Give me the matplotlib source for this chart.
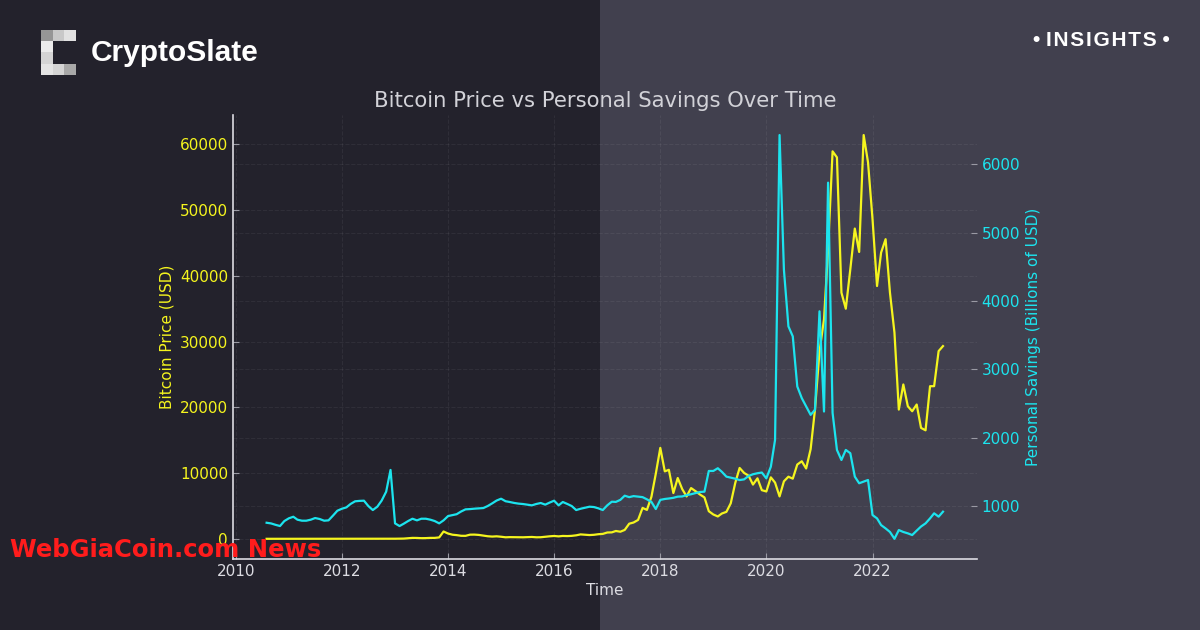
import matplotlib
matplotlib.use('Agg')
import numpy as np
import pandas as pd
import matplotlib.pyplot as plt
import matplotlib.dates as mdates
from matplotlib.patches import Rectangle

# monthly data, Aug 2010 - May 2023
months = pd.date_range('2010-08-01', '2023-05-01', freq='MS')

btc_price = [
    0.07, 0.06, 0.1, 0.2, 0.25,
    0.3, 0.9, 0.9, 0.8, 3.5, 8.7, 16, 13, 8, 5, 3.2, 3,
    5, 5.5, 5, 5, 5, 5.2, 6.7, 9.3, 10, 12.4, 11, 12.5,
    13.5, 20, 33, 93, 139, 129, 97, 106, 141, 141, 211, 1113,
    800, 620, 560, 460, 450, 630, 640, 590, 480, 390, 340, 380,
    315, 230, 255, 245, 235, 230, 260, 280, 230, 240, 310, 380,
    430, 370, 435, 415, 450, 530, 670, 625, 570, 610, 700, 745,
    960, 980, 1190, 1080, 1350, 2300, 2480, 2870, 4700, 4400, 6400, 9900,
    13830, 10260, 10500, 6960, 9250, 7560, 6450, 7720, 7240, 6740, 6300, 4200,
    3700, 3400, 3850, 4100, 5400, 8500, 10780, 10020, 9600, 8250, 9200, 7400,
    7200, 9350, 8550, 6450, 8750, 9450, 9150, 11300, 11800, 10700, 13650, 19700,
    28500, 33400, 44000, 58950, 58030, 37450, 35010, 41000, 47200, 43640, 61430, 57270,
    48630, 38460, 43550, 45580, 37450, 31360, 19660, 23480, 20170, 19410, 20430, 16870,
    16510, 23220, 23220, 28560, 29320,
]

personal_savings = [
    755, 745, 725, 707, 780,
    820, 843, 800, 785, 785, 800, 824, 810, 785, 790, 860, 931,
    960, 980, 1030, 1069, 1075, 1078, 1000, 941, 990, 1080, 1210, 1528,
    746, 707, 740, 780, 814, 790, 814, 814, 800, 780, 746, 790,
    853, 868, 880, 920, 951, 955, 961, 965, 970, 1000, 1039, 1080,
    1107, 1070, 1059, 1045, 1035, 1029, 1020, 1010, 1030, 1044, 1020, 1050,
    1078, 1010, 1059, 1030, 1000, 941, 960, 975, 990, 985, 966, 941,
    1010, 1063, 1060, 1090, 1151, 1130, 1145, 1137, 1130, 1098, 1060, 956,
    1090, 1103, 1110, 1120, 1137, 1140, 1160, 1172, 1190, 1205, 1210, 1513,
    1513, 1553, 1500, 1430, 1415, 1400, 1380, 1390, 1440, 1465, 1480, 1490,
    1405, 1575, 1968, 6430, 4460, 3630, 3483, 2750, 2579, 2457, 2334, 2408,
    3850, 2383, 5733, 2364, 1821, 1674, 1821, 1773, 1430, 1333, 1357, 1381,
    868, 819, 721, 672, 620, 520, 648, 620, 600, 575, 640, 700,
    746, 819, 893, 844, 917,
]

left_bg = '#23222c'
right_bg = '#41404e'
yellow = '#f5f51e'
cyan = '#1ce4ee'
light = '#dcdce2'

fig = plt.figure(figsize=(12, 6.3), dpi=100)
fig.patch.set_facecolor(left_bg)
fig.add_artist(Rectangle((0.5, 0), 0.5, 1, transform=fig.transFigure,
                         facecolor=right_bg, edgecolor='none', zorder=-10))

ax = fig.add_axes([0.194, 0.1127, 0.620, 0.705])
ax.set_facecolor('none')
ax2 = ax.twinx()

ax.plot(months, btc_price, color=yellow, lw=1.6)
ax2.plot(months, personal_savings, color=cyan, lw=1.6)

ax.xaxis.set_major_locator(mdates.YearLocator(2))
ax.xaxis.set_major_formatter(mdates.DateFormatter('%Y'))

for s in ['top', 'right']:
    ax.spines[s].set_visible(False)
for s in ax2.spines.values():
    s.set_visible(False)
ax.spines['left'].set_color(light)
ax.spines['bottom'].set_color(light)
ax.spines['left'].set_linewidth(1.2)
ax.spines['bottom'].set_linewidth(1.2)

ax.tick_params(axis='both', direction='in', length=4, color='#9a9aa4', labelsize=11)
ax.tick_params(axis='x', labelcolor=light)
ax.tick_params(axis='y', labelcolor=yellow)
ax2.tick_params(axis='y', direction='in', length=4, color='#9a9aa4',
                labelsize=11, labelcolor=cyan)

ax.grid(True, color='white', alpha=0.06, linestyle='--', lw=0.8)
ax2.grid(True, axis='y', color='white', alpha=0.06, linestyle='--', lw=0.8)

ax.set_title('Bitcoin Price vs Personal Savings Over Time', color='#d2d2d8',
             fontsize=15.2, pad=6)
ax.set_xlabel('Time', color=light, fontsize=11, labelpad=3)
ax.set_ylabel('Bitcoin Price (USD)', color=yellow, fontsize=11)
ax2.set_ylabel('Personal Savings (Billions of USD)', color=cyan, fontsize=11)

# logo
logo = np.zeros((4, 3, 4))
greys = [[150, 200, 225], [235, None, None], [212, None, None], [228, 212, 168]]
for r, row in enumerate(greys):
    for c, g in enumerate(row):
        if g is not None:
            logo[r, c] = [g / 255, g / 255, g / 255, 1]
lax = fig.add_axes([41 / 1200, 1 - 75 / 630, 35 / 1200, 45 / 630])
lax.imshow(logo, aspect='auto', interpolation='nearest')
lax.axis('off')
fig.text(91 / 1200, 1 - 53 / 630, 'CryptoSlate', color='white', fontsize=21.5,
         fontweight='bold', family='Liberation Sans', va='center', ha='left')

hair = '\u200a'
fig.text(1170 / 1200, 1 - 41 / 630, '\u2022 ' + hair.join('INSIGHTS') + ' \u2022',
         color='white', fontsize=15, fontweight='bold',
         family=['Liberation Sans', 'DejaVu Sans'], va='center', ha='right')

fig.text(10 / 1200, 1 - 550 / 630, 'WebGiaCoin.com News', color='#ff1c1c', fontsize=17.5,
         fontweight='bold', family='DejaVu Sans', va='center', ha='left')

fig.savefig('out.png', dpi=100, facecolor=fig.get_facecolor())
